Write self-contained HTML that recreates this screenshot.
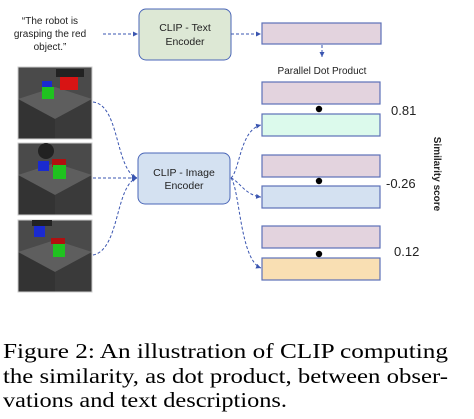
<!DOCTYPE html>
<html><head><style>
html,body{margin:0;padding:0;background:#fff;width:474px;height:419px;overflow:hidden}
svg{display:block}
.s{font-family:"Liberation Sans",sans-serif;fill:#222}
.c{font-family:"Liberation Serif",serif;font-size:21.5px;fill:#000}
</style></head><body>
<svg width="474" height="419" viewBox="0 0 474 419" xmlns="http://www.w3.org/2000/svg">
<defs>
<marker id="a" markerWidth="6" markerHeight="6" refX="5" refY="3" orient="auto" markerUnits="userSpaceOnUse"><path d="M0,0.5 L5,3 L0,5.5z" fill="#3a55b0"/></marker>
<g id="floor">
<rect width="74" height="72" fill="#4a4a4a"/>
<polygon points="0,32 37,20 74,32 37,52" fill="#5e5e5e"/>
<polygon points="0,32 37,52 37,72 0,72" fill="#333"/>
<polygon points="74,32 37,52 37,72 74,72" fill="#3a3a3a"/>
<rect width="74" height="72" fill="none" stroke="#ccc" stroke-width="1"/>
</g>
</defs>
<g class="s" font-size="10" text-anchor="middle">
<text x="50" y="24">“The robot is</text>
<text x="50" y="37">grasping the red</text>
<text x="50" y="50">object.”</text>
</g>
<rect x="139" y="9" width="92" height="51" rx="7" fill="#dde8d5" stroke="#4a66b8" stroke-width="1"/>
<text class="s" font-size="10.5" text-anchor="middle" x="185" y="31">CLIP - Text</text>
<text class="s" font-size="10.5" text-anchor="middle" x="185" y="45">Encoder</text>
<rect x="138" y="153" width="92" height="51" rx="7" fill="#d4e1f1" stroke="#4a66b8" stroke-width="1"/>
<text class="s" font-size="10.5" text-anchor="middle" x="184" y="176">CLIP - Image</text>
<text class="s" font-size="10.5" text-anchor="middle" x="184" y="189">Encoder</text>
<g transform="translate(18,67)"><use href="#floor"/><rect x="38" y="2" width="28" height="8" fill="#222"/><rect x="24" y="14" width="10" height="9" fill="#1a2ad0"/><rect x="42" y="10" width="18" height="13" fill="#d81414"/><rect x="24" y="20" width="12" height="12" fill="#1fc21f"/></g>
<g transform="translate(18,143)"><use href="#floor"/><circle cx="28" cy="8" r="8" fill="#222"/><rect x="20" y="18" width="11" height="10" fill="#1a2ad0"/><rect x="34" y="16" width="14" height="8" fill="#b01010"/><rect x="35" y="22" width="13" height="14" fill="#1fc21f"/></g>
<g transform="translate(18,220)"><use href="#floor"/><rect x="14" y="0" width="20" height="6" fill="#222"/><rect x="16" y="6" width="11" height="11" fill="#1a2ad0"/><rect x="33" y="18" width="14" height="6" fill="#b01010"/><rect x="35" y="24" width="12" height="13" fill="#1fc21f"/></g>
<g fill="none" stroke="#3a55b0" stroke-width="1" stroke-dasharray="3,2">
<line x1="103" y1="34" x2="138" y2="34" marker-end="url(#a)"/>
<line x1="231" y1="34" x2="261" y2="34" marker-end="url(#a)"/>
<line x1="322" y1="45" x2="322" y2="57" marker-end="url(#a)"/>
<path d="M93,102 C120,105 115,170 137,178" marker-end="url(#a)"/>
<line x1="93" y1="178" x2="137" y2="178" marker-end="url(#a)"/>
<path d="M93,255 C120,250 115,185 137,178" marker-end="url(#a)"/>
<path d="M231,178 C240,170 240,130 261,125" marker-end="url(#a)"/>
<path d="M231,178 C240,182 245,195 261,197" marker-end="url(#a)"/>
<path d="M231,178 C240,190 240,260 261,268" marker-end="url(#a)"/>
</g>
<g stroke="#5c70b8" stroke-width="1.2">
<rect x="262" y="23" width="119" height="21" fill="#e3d3de"/>
<rect x="262" y="82" width="118" height="22" fill="#e3d3de"/>
<rect x="262" y="114" width="118" height="22" fill="#dcfaec"/>
<rect x="262" y="155" width="118" height="22" fill="#e3d3de"/>
<rect x="262" y="186" width="118" height="22" fill="#d4e1f1"/>
<rect x="262" y="226" width="118" height="22" fill="#e3d3de"/>
<rect x="262" y="258" width="118" height="22" fill="#f9dfb3"/>
</g>
<text class="s" font-size="10" text-anchor="middle" x="322" y="74">Parallel Dot Product</text>
<circle cx="319" cy="109" r="3.2" fill="#000"/>
<circle cx="319" cy="181" r="3.2" fill="#000"/>
<circle cx="319" cy="254" r="3.2" fill="#000"/>
<g class="s" font-size="13">
<text x="391" y="115">0.81</text>
<text x="386" y="188">-0.26</text>
<text x="394" y="256">0.12</text>
</g>
<text class="s" font-size="10" font-weight="bold" transform="translate(434,174) rotate(90)" text-anchor="middle">Similarity score</text>
<text class="c" x="3" y="358" textLength="445" lengthAdjust="spacingAndGlyphs">Figure 2: An illustration of CLIP computing</text>
<text class="c" x="3" y="383" textLength="445" lengthAdjust="spacingAndGlyphs">the similarity, as dot product, between obser-</text>
<text class="c" x="3" y="407" textLength="284" lengthAdjust="spacingAndGlyphs">vations and text descriptions.</text>
</svg>
</body></html>
